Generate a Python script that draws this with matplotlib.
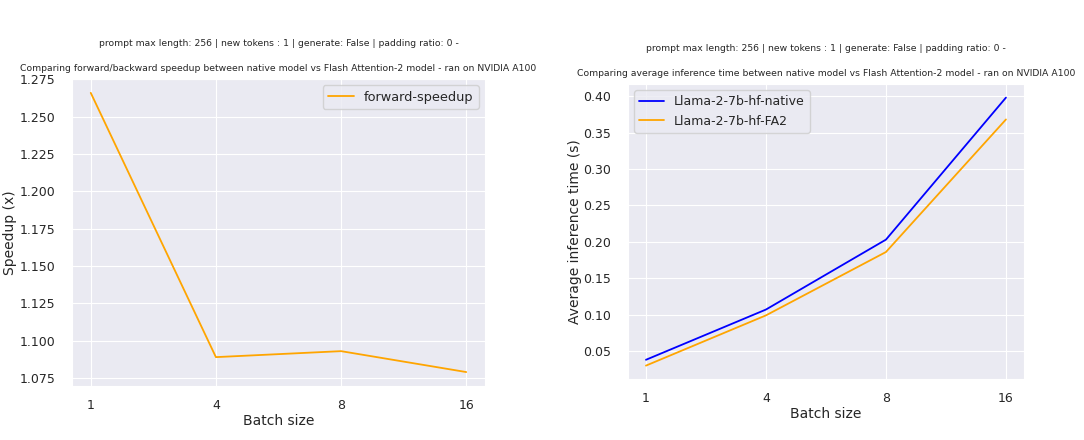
import matplotlib
matplotlib.use("Agg")
import matplotlib.pyplot as plt
import seaborn as sns

batch_sizes = ["1", "4", "8", "16"]
forward_speedup = [1.266, 1.089, 1.093, 1.079]
time_native = [0.038, 0.107, 0.203, 0.398]
time_fa2 = [0.030, 0.099, 0.186, 0.368]

subtitle = "prompt max length: 256 | new tokens : 1 | generate: False | padding ratio: 0 -"
title_left = "Comparing forward/backward speedup between native model vs Flash Attention-2 model - ran on NVIDIA A100"
title_right = "Comparing average inference time between native model vs Flash Attention-2 model - ran on NVIDIA A100"

sns.set_style("darkgrid")
plt.rcParams['font.family'] = ['DejaVu Sans']

fig = plt.figure(figsize=(10.84, 4.4), dpi=100)
ax1 = fig.add_axes([0.0664, 0.1227, 0.381, 0.698])
ax2 = fig.add_axes([0.5793, 0.1386, 0.3653, 0.670])

x = list(range(len(batch_sizes)))

ax1.plot(x, forward_speedup, color="orange", label="forward-speedup", lw=1.3)
ax1.set_ylabel("Speedup (x)", fontsize=10, labelpad=2)
ax1.set_title(subtitle + "\n\n" + title_left, fontsize=6.7, linespacing=1.5)
ax1.legend(fontsize=9.3, loc="upper right")

ax2.plot(x, time_native, color="blue", label="Llama-2-7b-hf-native", lw=1.3)
ax2.plot(x, time_fa2, color="orange", label="Llama-2-7b-hf-FA2", lw=1.3)
ax2.set_ylabel("Average inference time (s)", fontsize=10, labelpad=1)
ax2.set_title(subtitle + "\n\n" + title_right, fontsize=6.7, linespacing=1.5)
ax2.legend(fontsize=9.0, loc="upper left")

for ax in (ax1, ax2):
    ax.set_xticks(x)
    ax.set_xticklabels(batch_sizes)
    ax.set_xlabel("Batch size", fontsize=10, labelpad=2)
    ax.tick_params(axis="x", labelsize=9, pad=5.5)
    ax.tick_params(axis="y", labelsize=9, pad=8.5)

fig.savefig("out.png", dpi=100)
